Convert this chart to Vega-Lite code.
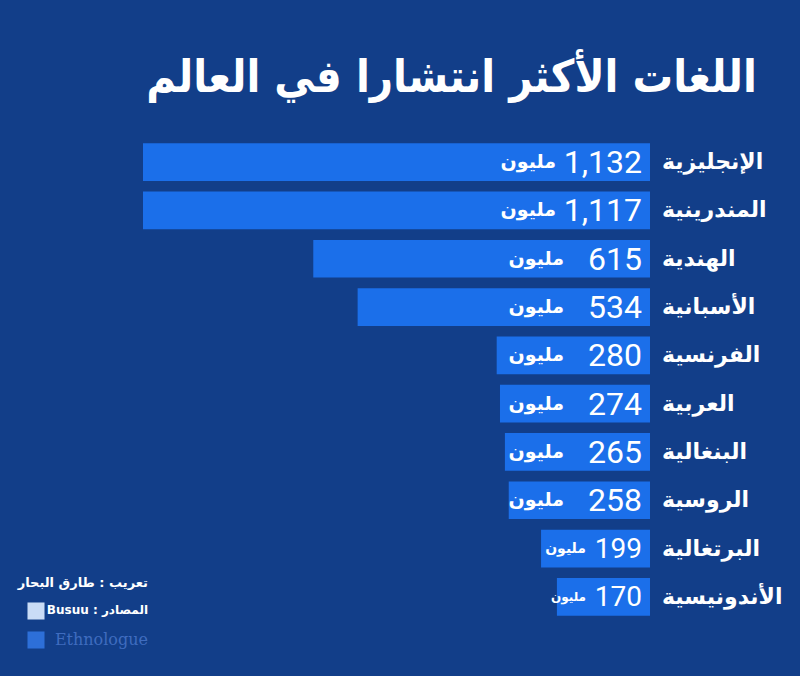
{
  "$schema": "https://vega.github.io/schema/vega-lite/v6.json",
  "width": 507,
  "height": 483,
  "autosize": {"type": "none"},
  "padding": {"left": 143, "right": 150, "top": 138, "bottom": 55},
  "background": "#123e89",
  "config": {"view": {"stroke": null}, "font": "DejaVu Sans"},
  "title": {
    "text": "اللغات الأكثر انتشارا في العالم",
    "font": "DejaVu Sans Condensed, DejaVu Sans",
    "fontSize": 45,
    "fontWeight": "bold",
    "color": "white",
    "anchor": "middle",
    "dx": 55,
    "offset": 37
  },
  "datasets": {
    "langs": [
      {"lang": "الإنجليزية", "speakers": 1132},
      {"lang": "المندرينية", "speakers": 1117},
      {"lang": "الهندية", "speakers": 615},
      {"lang": "الأسبانية", "speakers": 534},
      {"lang": "الفرنسية", "speakers": 280},
      {"lang": "العربية", "speakers": 274},
      {"lang": "البنغالية", "speakers": 265},
      {"lang": "الروسية", "speakers": 258},
      {"lang": "البرتغالية", "speakers": 199},
      {"lang": "الأندونيسية", "speakers": 170}
    ]
  },
  "layer": [
    {
      "data": {"name": "langs"},
      "mark": {"type": "bar", "color": "#1b6fea", "orient": "horizontal"},
      "encoding": {
        "y": {"field": "lang", "type": "nominal", "sort": null, "axis": null, "scale": {"paddingInner": 0.22, "paddingOuter": 0.11}},
        "x": {
          "field": "speakers",
          "type": "quantitative",
          "axis": null,
          "scale": {"domain": [0, 926], "reverse": true, "clamp": true, "nice": false, "zero": true}
        }
      }
    },
    {
      "data": {"name": "langs"},
      "mark": {"type": "text", "align": "left", "baseline": "middle", "dx": 12, "fontSize": 22, "fontWeight": "bold", "color": "white"},
      "encoding": {
        "y": {"field": "lang", "type": "nominal", "sort": null, "axis": null},
        "x": {"datum": 0, "type": "quantitative", "axis": null},
        "text": {"field": "lang"}
      }
    },
    {
      "data": {"name": "langs"},
      "mark": {"type": "text", "align": "right", "baseline": "middle", "dx": -8, "dy": 1, "font": "Roboto", "color": "white"},
      "encoding": {
        "y": {"field": "lang", "type": "nominal", "sort": null, "axis": null},
        "x": {"datum": 0, "type": "quantitative", "axis": null},
        "text": {"field": "speakers", "format": ","},
        "size": {"condition": {"test": "datum.speakers < 250", "value": 28}, "value": 32}
      }
    },
    {
      "data": {"name": "langs"},
      "transform": [{"filter": "datum.speakers >= 1000"}],
      "mark": {"type": "text", "align": "right", "baseline": "middle", "dx": -94, "fontSize": 19, "fontWeight": "bold", "color": "white", "text": "مليون"},
      "encoding": {
        "y": {"field": "lang", "type": "nominal", "sort": null, "axis": null},
        "x": {"datum": 0, "type": "quantitative", "axis": null}
      }
    },
    {
      "data": {"name": "langs"},
      "transform": [{"filter": "datum.speakers >= 250 && datum.speakers < 1000"}],
      "mark": {"type": "text", "align": "right", "baseline": "middle", "dx": -86, "fontSize": 19, "fontWeight": "bold", "color": "white", "text": "مليون"},
      "encoding": {
        "y": {"field": "lang", "type": "nominal", "sort": null, "axis": null},
        "x": {"datum": 0, "type": "quantitative", "axis": null}
      }
    },
    {
      "data": {"name": "langs"},
      "transform": [{"filter": "datum.speakers < 250"}],
      "mark": {"type": "text", "align": "right", "baseline": "middle", "dx": -64, "fontWeight": "bold", "color": "white", "text": "مليون"},
      "encoding": {
        "y": {"field": "lang", "type": "nominal", "sort": null, "axis": null},
        "x": {"datum": 0, "type": "quantitative", "axis": null},
        "size": {"condition": {"test": "datum.speakers < 180", "value": 12}, "value": 14}
      }
    },
    {
      "data": {"values": [{"t": "تعريب :  طارق البحار"}]},
      "mark": {"type": "text", "align": "right", "baseline": "middle", "fontSize": 13, "fontWeight": "bold", "color": "white"},
      "encoding": {"x": {"value": 5}, "y": {"value": 445}, "text": {"field": "t"}}
    },
    {
      "data": {"values": [{"t": "Busuu : المصادر"}]},
      "mark": {"type": "text", "align": "right", "baseline": "middle", "fontSize": 12, "fontWeight": "bold", "color": "white"},
      "encoding": {"x": {"value": 5}, "y": {"value": 472}, "text": {"field": "t"}}
    },
    {
      "data": {"values": [{"t": "Ethnologue"}]},
      "mark": {"type": "text", "align": "right", "baseline": "middle", "font": "DejaVu Serif", "fontSize": 16, "color": "#3f6cbf"},
      "encoding": {"x": {"value": 5}, "y": {"value": 502}, "text": {"field": "t"}}
    },
    {
      "data": {"values": [{"icon": "Busuu"}]},
      "mark": {"type": "square", "size": 290, "filled": true, "color": "#c9dcf6", "opacity": 1},
      "encoding": {"x": {"value": -107}, "y": {"value": 473}}
    },
    {
      "data": {"values": [{"icon": "Ethnologue"}]},
      "mark": {"type": "square", "size": 290, "filled": true, "color": "#2d6fd8", "opacity": 1},
      "encoding": {"x": {"value": -107}, "y": {"value": 502}}
    }
  ]
}
